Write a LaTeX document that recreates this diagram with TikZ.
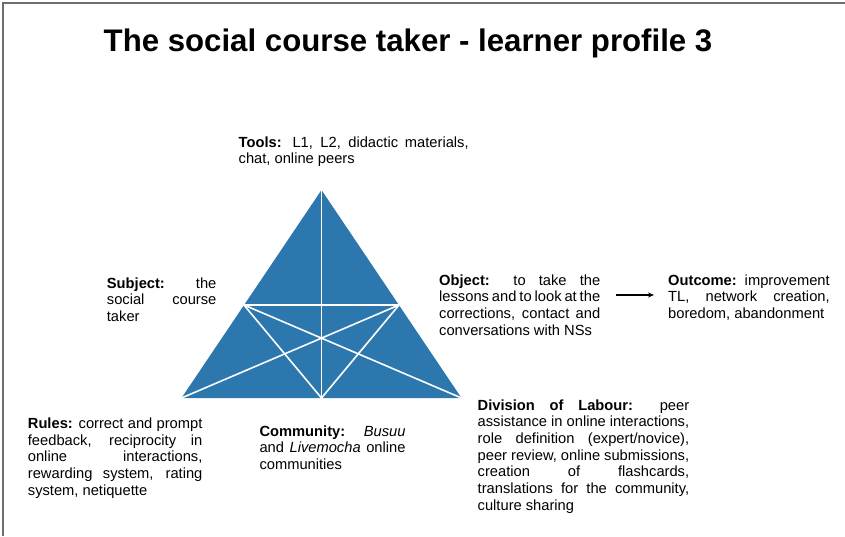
\documentclass[tikz,border=0pt]{standalone}
\usepackage{fontspec}
\setmainfont{Liberation Sans}
\usetikzlibrary{arrows.meta}
\definecolor{triblue}{RGB}{44,120,174}
\definecolor{frame}{RGB}{110,110,110}
\tikzset{
  txt/.style={anchor=base west, inner sep=0pt, align=justify,
    font=\fontsize{14.7}{16.7}\selectfont,
    execute at begin node={\hyphenpenalty=10000\relax\hbadness=10000\relax}},
  wline/.style={draw=white, line width=1.6pt},
}
\begin{document}
\begin{tikzpicture}[x=1pt,y=-1pt]
\useasboundingbox (0,0) rectangle (845,536);
\draw[frame, line width=2pt] (2.5,536) -- (2.5,3) -- (845,3);
\node[anchor=base west, inner sep=0pt, font=\fontsize{31.2}{36}\selectfont\bfseries] (title) at (103.5,51) {The social course taker - learner profile 3};
% triangle
\coordinate (A) at (321.5,190);
\coordinate (BL) at (181.5,398);
\coordinate (BR) at (461.5,398);
\coordinate (BM) at (321.5,398);
\coordinate (ML) at (244,305);
\coordinate (MR) at (399,305);
\fill[triblue] (A) -- (BL) -- (BR) -- cycle;
\draw[wline] (A) -- (BM);
\draw[wline] (ML) -- (MR);
\draw[wline] (ML) -- (BR);
\draw[wline] (MR) -- (BL);
\draw[wline] (ML) -- (BM);
\draw[wline] (MR) -- (BM);
% texts
\node[txt, text width=230] (tools) at (238.5,147) {\textbf{Tools:} L1, L2, didactic materials,\linebreak chat, online peers\par};
\node[txt, text width=109.5] (subject) at (106.7,288) {\textbf{Subject:} the\linebreak social course\linebreak taker\par};
\node[txt, text width=161] (object) at (439,285) {\textbf{Object:} to take the\linebreak lessons and to look at the\linebreak corrections, contact and\linebreak conversations with NSs\par};
\node[txt, text width=161.5] (outcome) at (668,285) {\textbf{Outcome:} improvement\linebreak TL, network creation,\linebreak boredom, abandonment\par};
\node[txt, text width=174.5] (rules) at (27.7,428.3) {\textbf{Rules:} correct and prompt\linebreak feedback, reciprocity in\linebreak online interactions,\linebreak rewarding system, rating\linebreak system, netiquette\par};
\node[txt, text width=146] (community) at (259.3,436) {\textbf{Community:} \textit{Busuu}\linebreak and \textit{Livemocha} online\linebreak communities\par};
\node[txt, text width=211.5] (division) at (477.5,410) {\textbf{Division of Labour:} peer\linebreak assistance in online interactions,\linebreak role definition (expert/novice),\linebreak peer review, online submissions,\linebreak creation of flashcards,\linebreak translations for the community,\linebreak culture sharing\par};
\coordinate (arrS) at (616,295);
\coordinate (arrE) at (654,295);
\draw[line width=1.3pt, -{Stealth[length=6pt,width=5pt]}] (arrS) -- (arrE);
\end{tikzpicture}
\end{document}
